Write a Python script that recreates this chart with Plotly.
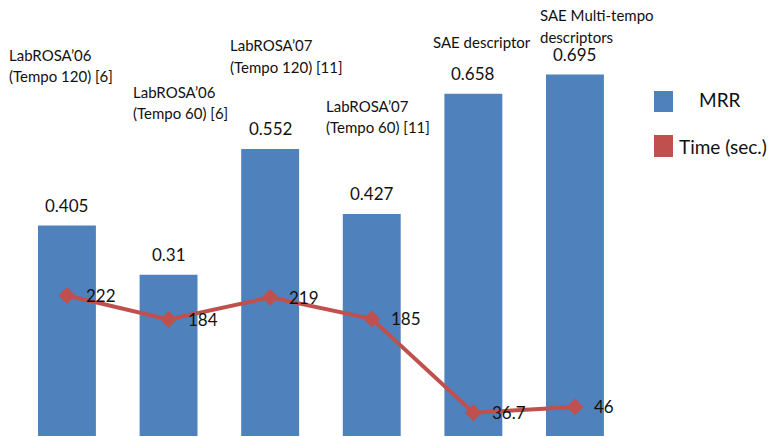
import plotly.graph_objects as go

# Data
methods = [
    "LabROSA’06 (Tempo 120) [6]",
    "LabROSA’06 (Tempo 60) [6]",
    "LabROSA’07 (Tempo 120) [11]",
    "LabROSA’07 (Tempo 60) [11]",
    "SAE descriptor",
    "SAE Multi-tempo descriptors",
]
method_lines = [
    ["LabROSA’06", "(Tempo 120) [6]"],
    ["LabROSA’06", "(Tempo 60) [6]"],
    ["LabROSA’07", "(Tempo 120) [11]"],
    ["LabROSA’07", "(Tempo 60) [11]"],
    ["SAE descriptor"],
    ["SAE Multi-tempo", "descriptors"],
]
mrr = [0.405, 0.31, 0.552, 0.427, 0.658, 0.695]
time_sec = [222, 184, 219, 185, 36.7, 46]

BLUE = "#4F81BD"
RED = "#C0504D"
FONT = "Lato, Carlito, sans-serif"
W, H = 768, 437
PLOT_H = 436

fig = go.Figure()
fig.add_trace(go.Bar(
    x=methods, y=mrr, width=0.57,
    marker=dict(color=BLUE, line=dict(width=0)),
    showlegend=False, hoverinfo="x+y",
))
fig.add_trace(go.Scatter(
    x=methods, y=time_sec, yaxis="y2", mode="lines+markers",
    line=dict(color=RED, width=4),
    marker=dict(symbol="diamond", size=13, color=RED),
    showlegend=False,
))

ann = []
# MRR value labels above the bars
for m, v in zip(methods, mrr):
    ann.append(dict(x=m, y=v, xref="x", yref="y", text=f"{v:g}",
                    showarrow=False, yshift=20, yanchor="middle",
                    font=dict(size=17, color="#111")))
# Time labels to the right of the markers
for m, t in zip(methods, time_sec):
    ann.append(dict(x=m, y=t, xref="x", yref="y2", text=f"{t:g}",
                    showarrow=False, xanchor="left", xshift=17,
                    yanchor="middle", font=dict(size=17, color="#111")))

# Method names: left offset (px from bar centre) and first/second line heights (px from top)
name_pos = [(-60, 55, 76), (-38, 92, 113), (-42, 45, 67),
            (-48, 106, 127), (-42, 42, None), (-37, 15, 37)]
for m, lines, (dx, y1, y2) in zip(methods, method_lines, name_pos):
    for line, py in zip(lines, (y1, y2)):
        ann.append(dict(x=m, xref="x", y=1 - py / PLOT_H, yref="paper",
                        text=line, showarrow=False, xanchor="left",
                        xshift=dx, yanchor="middle",
                        font=dict(size=15, color="#111")))

# Legend
shapes = []
for (y0, y1), col in [((91, 112), BLUE), ((135, 157), RED)]:
    shapes.append(dict(type="rect", xref="paper", yref="paper",
                       x0=654 / W, x1=673 / W,
                       y0=1 - y1 / PLOT_H, y1=1 - y0 / PLOT_H,
                       fillcolor=col, line=dict(width=0)))
ann.append(dict(x=697 / W, y=1 - 100 / PLOT_H, xref="paper", yref="paper",
                text="MRR", showarrow=False, xanchor="left", yanchor="middle",
                font=dict(size=19, color="#111")))
ann.append(dict(x=677 / W, y=1 - 146 / PLOT_H, xref="paper", yref="paper",
                text="Time (sec.)", showarrow=False, xanchor="left",
                yanchor="middle", font=dict(size=19, color="#111")))

fig.update_layout(
    width=W, height=H,
    margin=dict(l=0, r=0, t=0, b=1, pad=0),
    paper_bgcolor="white", plot_bgcolor="white",
    font=dict(family=FONT, color="#111"),
    bargap=0.43,
    xaxis=dict(type="category", range=[-0.659, 6.90], visible=False,
               fixedrange=True),
    yaxis=dict(range=[0, PLOT_H / 520], visible=False, fixedrange=True),
    yaxis2=dict(range=[0, PLOT_H / 0.633], overlaying="y", side="right",
                visible=False, fixedrange=True),
    annotations=ann, shapes=shapes,
)

fig.write_html("out.html", config={"displayModeBar": False})
